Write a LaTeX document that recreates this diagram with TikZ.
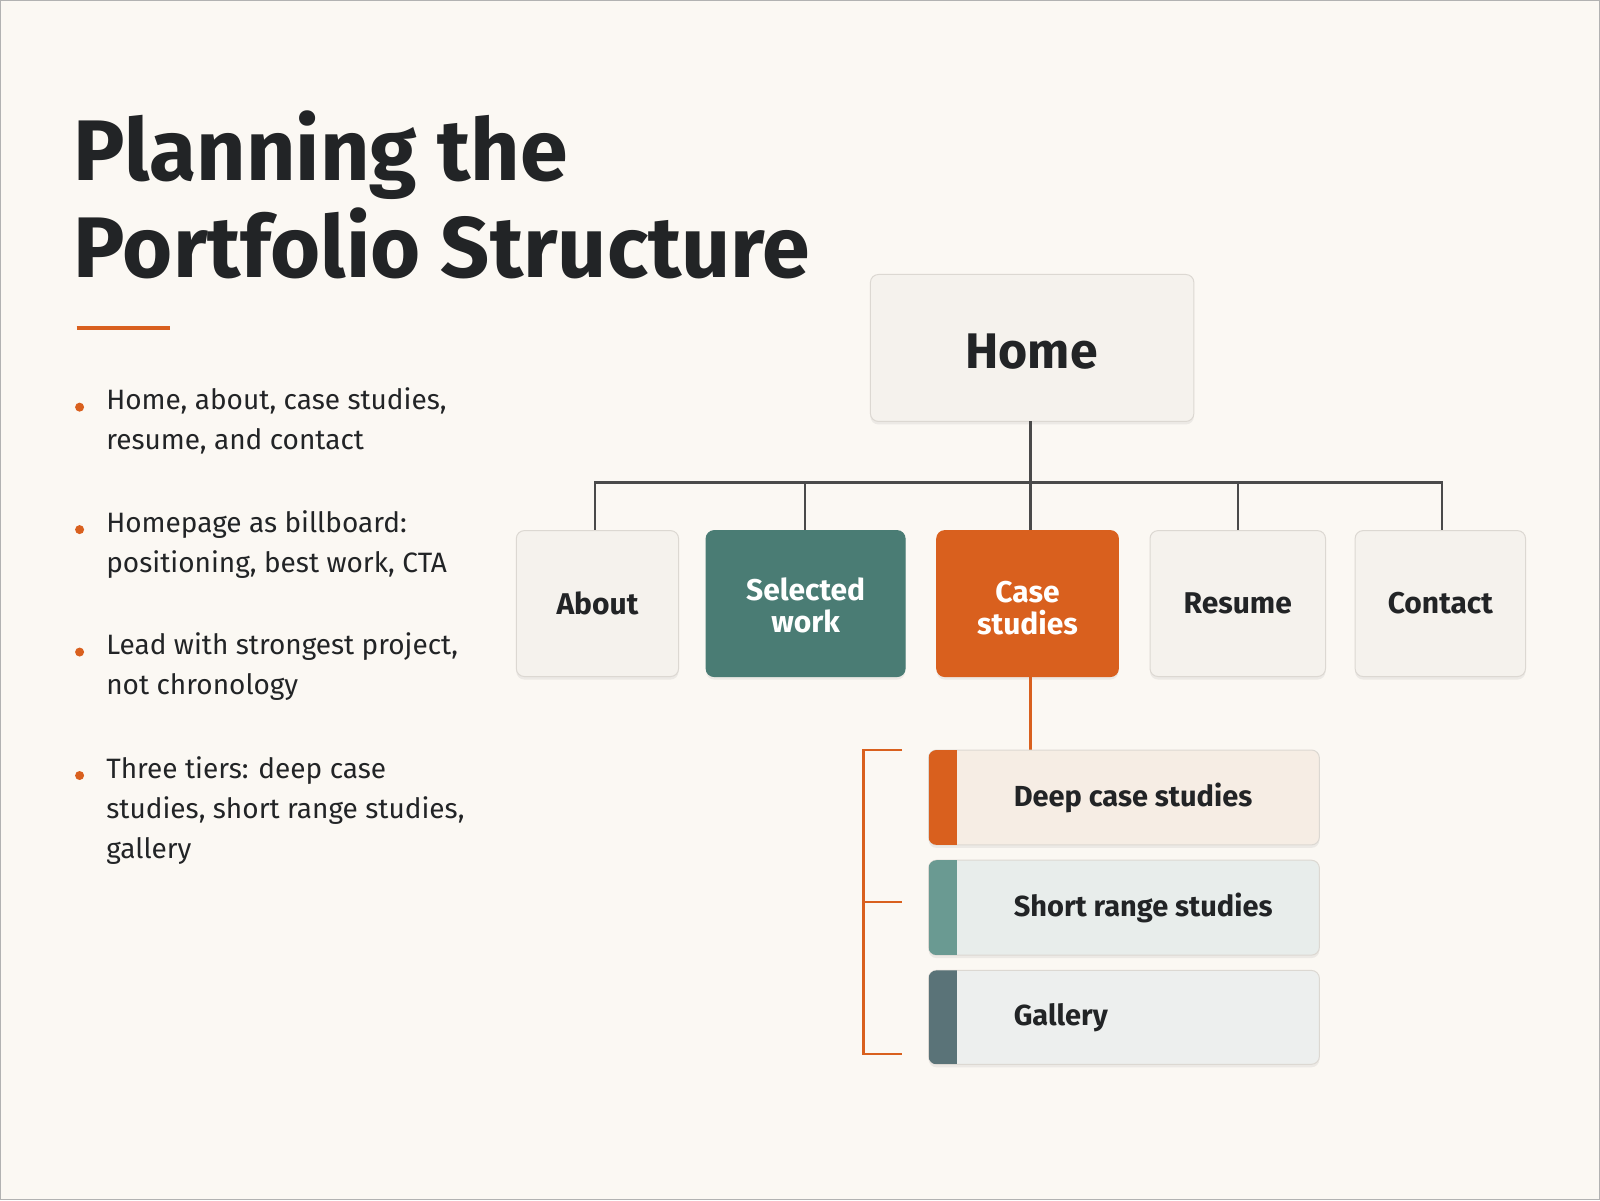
\documentclass[tikz,border=0pt]{standalone}
\usepackage{fontspec}
\setmainfont{Fira Sans}
\usetikzlibrary{shadows}
\definecolor{bg}{HTML}{FBF8F3}
\definecolor{boxf}{HTML}{F5F2ED}
\definecolor{boxd}{HTML}{DCD8D2}
\definecolor{ink}{HTML}{222426}
\definecolor{org}{HTML}{D9601E}
\definecolor{teal}{HTML}{4A7C74}
\definecolor{lteal}{HTML}{6A9A92}
\definecolor{slate}{HTML}{5A7378}
\definecolor{line}{HTML}{4A4A4A}
\begin{document}
\begin{tikzpicture}[x=1.0204pt,y=-1.0204pt,
  card/.style={draw=boxd,line width=1pt,rounded corners=8pt,fill=boxf,drop shadow={shadow xshift=0pt,shadow yshift=-3pt,opacity=0.12}},
  lbl/.style={font=\fontsize{30}{32}\selectfont\bfseries,text=ink,align=center},
  conn/.style={draw=line,line width=2.5pt},
  bul/.style={anchor=north west,font=\fontsize{28}{40}\selectfont,text=ink,align=left,inner sep=0pt},
  dot/.style={circle,fill=org,inner sep=0pt,minimum size=9pt},
  sub/.style={font=\fontsize{29}{32}\selectfont\bfseries,text=ink,anchor=west}]
\useasboundingbox (0,0) rectangle (1568,1176);
\fill[bg] (0,0) rectangle (1568,1176);
\draw[gray!60,line width=1pt] (0.5,0.5) rectangle (1567.5,1175.5);
% title
\node[anchor=north west,inner sep=0pt,font=\fontsize{86}{97}\selectfont\bfseries,text=ink,align=left] (title) at (72,108) {Planning the\\Portfolio Structure};
\draw[org,line width=4pt] (75,321) -- (167,321);
% bullets
\foreach \y/\t in {380/{Home, about, case studies,\\resume, and contact},500/{Homepage as billboard:\\positioning, best work, CTA},620/{Lead with strongest project,\\not chronology},741/{Three tiers: deep case\\studies, short range studies,\\gallery}}{
  \node[dot] at (78,399-380+\y) {};
  \node[bul] at (104,\y) {\t};
}
% home
\path[card] (853,269) rectangle (1170,413);
\node[font=\fontsize{50}{54}\selectfont\bfseries,text=ink] (home) at (1011,345) {Home};
\coordinate (hb) at (1010,413);
\coordinate (hj) at (1010,473);
\draw[conn] (hb) -- (hj);
\draw[conn] (583,520) -- (583,473) -- (1413,473) -- (1413,520);
\draw[conn] (789,473) -- (789,520);
\draw[conn] (1010,473) -- (1010,520);
\draw[conn] (1213,473) -- (1213,520);
% level 2
\path[card] (506,520) rectangle (665,663);
\node[lbl] (about) at (585.5,591) {About};
\path[card,fill=teal,draw=teal] (692,520) rectangle (887,663);
\node[lbl,text=white] (sel) at (789.5,593) {Selected\\work};
\path[card,fill=org,draw=org] (918,520) rectangle (1096,663);
\node[lbl,text=white] (case) at (1007,596) {Case\\studies};
\path[card] (1127,520) rectangle (1299,663);
\node[lbl] (resume) at (1213,591) {Resume};
\path[card] (1328,520) rectangle (1495,663);
\node[lbl] (contact) at (1411.5,591) {Contact};
\draw[org,line width=2.5pt] (1010,663) -- (1010,735);
% sub tiers
\foreach \ya/\yb/\f/\a/\t/\n in {735/828/F6EDE4/org/Deep case studies/d1,843/936/E8EDEB/lteal/Short range studies/d2,951/1043/EDEFEE/slate/Gallery/d3}{
  \definecolor{tf}{HTML}{\f}
  \path[card,fill=tf] (910,\ya) rectangle (1293,\yb);
  \begin{scope}
    \clip[rounded corners=8pt] (910,\ya) rectangle (1293,\yb);
    \fill[\a] (910,\ya) rectangle (938,\yb);
  \end{scope}
  \node[sub] (\n) at (990,{(\ya+\yb)/2}) {\t};
}
% bracket
\draw[org,line width=2.5pt] (884,735) -- (846,735) -- (846,1033) -- (884,1033);
\draw[org,line width=2.5pt] (846,884) -- (884,884);
\end{tikzpicture}
\end{document}
